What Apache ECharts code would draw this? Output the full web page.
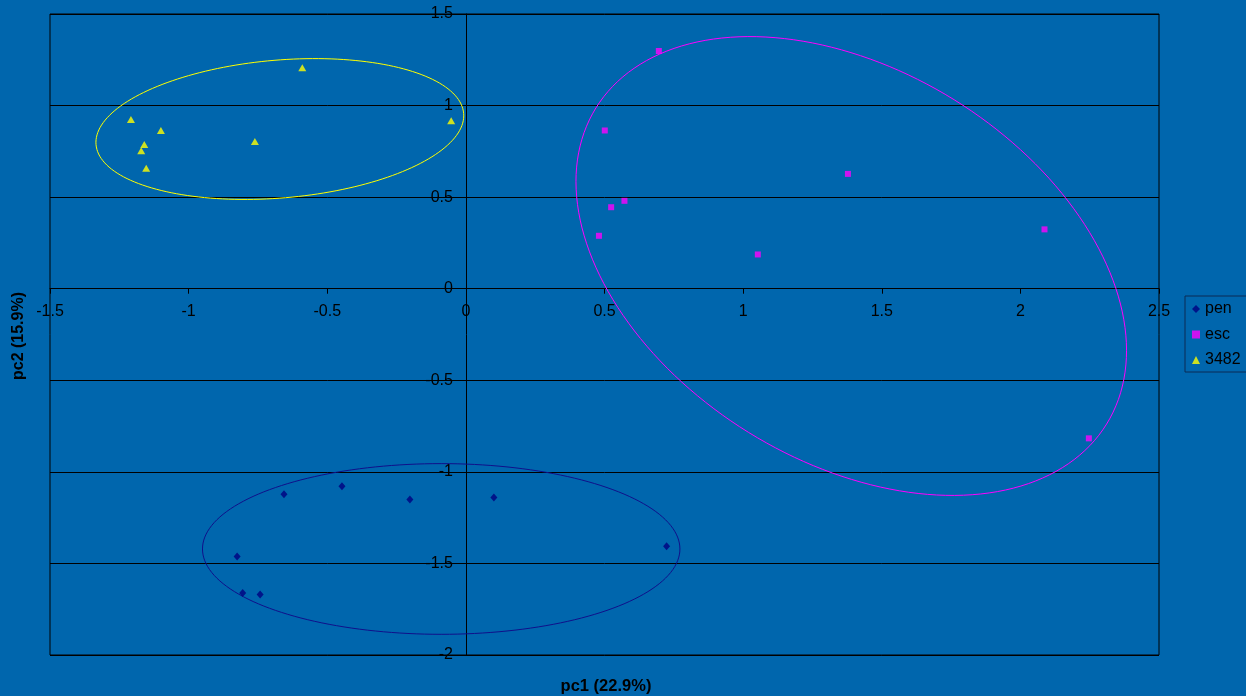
<!DOCTYPE html>
<html>
<head>
<meta charset="utf-8">
<script src="https://cdn.jsdelivr.net/npm/echarts@6/dist/echarts.min.js"></script>
<style>
html,body{margin:0;padding:0;background:#0066AD;}
#c{width:1246px;height:696px;}
</style>
</head>
<body>
<div id="c"></div>
<script>
// ---- data ----
const xTicks = [-1.5, -1, -0.5, 0, 0.5, 1, 1.5, 2, 2.5];
const yTicks = [-2, -1.5, -1, -0.5, 0, 0.5, 1, 1.5];
const seriesNames = ['pen', 'esc', '3482'];

const penX = [-0.825, -0.805, -0.742, -0.656, -0.447, -0.202, 0.101, 0.724];
const penY = [-1.462, -1.661, -1.669, -1.122, -1.079, -1.151, -1.140, -1.406];

const escX = [0.696, 0.501, 0.572, 0.524, 0.480, 1.053, 1.378, 2.087, 2.247];
const escY = [1.298, 0.864, 0.480, 0.445, 0.289, 0.187, 0.627, 0.324, -0.817];

const g3482X = [-1.208, -1.100, -1.160, -1.171, -1.153, -0.761, -0.590, -0.053];
const g3482Y = [0.924, 0.864, 0.787, 0.753, 0.658, 0.804, 1.206, 0.917];

// ellipses: centre and two conjugate half-axis vectors, in data units
const ellipseNames = ['pen', 'esc', '3482'];
const ellipseCx = [-0.089, 1.390, -0.671];
const ellipseCy = [-1.421, 0.124, 0.872];
const ellipseUx = [0.861, 0.921, 0.663];
const ellipseUy = [0.000, -0.863, 0.085];
const ellipseVx = [0.000, -0.371, 0.021];
const ellipseVy = [0.466, -0.908, -0.375];

// ---- styles / layout ----
const colors = {pen: '#000080', esc: '#FF00FF', '3482': '#FFFF00'};
const ellipseColors = {pen: '#10108A', esc: '#FF00FF', '3482': '#FFFF00'};
const FONT = 'Liberation Sans, Arial, sans-serif';
const W = 1246, H = 696;
const G = {left: 50, right: 87, top: 14, bottom: 41};

function zip(xs, ys){ return xs.map((x,i)=>[x, ys[i]]); }

const xMin = xTicks[0], xMax = xTicks[xTicks.length-1];
const yMin = yTicks[0], yMax = yTicks[yTicks.length-1];
const plotW = W - G.left - G.right, plotH = H - G.top - G.bottom;
// axes cross at zero: shift each axis from the grid edge to the zero line of the other axis
const xAxisOffset = -plotH * (0 - yMin) / (yMax - yMin);
const yAxisOffset = -plotW * (0 - xMin) / (xMax - xMin);

const ellipseData = ellipseNames.map((n,i)=>({
  value: [ellipseCx[i], ellipseCy[i], ellipseUx[i], ellipseUy[i], ellipseVx[i], ellipseVy[i]],
  itemStyle: {color: ellipseColors[n]}
}));

const chart = echarts.init(document.getElementById('c'), null, {renderer:'canvas'});

const option = {
  backgroundColor: '#0066AD',
  animation: false,
  grid: {left: G.left, right: G.right, top: G.top, bottom: G.bottom, show: true, borderColor: '#000', borderWidth: 1, backgroundColor: 'transparent'},
  xAxis: {
    type: 'value', min: xMin, max: xMax, interval: 0.5, position: 'bottom', offset: xAxisOffset,
    axisLine: {show: true, onZero: false, lineStyle: {color: '#000', width: 1}},
    axisTick: {show: true, length: 5, lineStyle: {color: '#000'}},
    axisLabel: {color: '#000', fontFamily: FONT, fontSize: 16, margin: 15},
    splitLine: {show: false}
  },
  yAxis: {
    type: 'value', min: yMin, max: yMax, interval: 0.5, position: 'left', offset: yAxisOffset,
    axisLine: {show: true, onZero: false, lineStyle: {color: '#000', width: 1}},
    axisTick: {show: true, length: 5, lineStyle: {color: '#000'}},
    axisLabel: {color: '#000', fontFamily: FONT, fontSize: 16, margin: 13},
    splitLine: {show: true, lineStyle: {color: '#000', width: 1}}
  },
  legend: {
    data: seriesNames.map(n=>({name:n, icon: n==='pen'?'diamond':(n==='esc'?'rect':'triangle')})),
    orient: 'vertical', left: 1185, top: 296,
    itemWidth: 8, itemHeight: 8, itemGap: 9.5,
    padding: [5, 40, 4, 7],
    borderColor: '#0A2A55', borderWidth: 1,
    textStyle: {color: '#000', fontFamily: FONT, fontSize: 16},
    selectedMode: false
  },
  graphic: [
    {type: 'text', x: 606, y: 686, style: {text: 'pc1 (22.9%)', fill: '#000', font: 'bold 16.5px Liberation Sans, Arial, sans-serif', align: 'center', verticalAlign: 'middle'}},
    {type: 'text', x: 19, y: 336, rotation: Math.PI/2, style: {text: 'pc2 (15.9%)', fill: '#000', font: 'bold 16px Liberation Sans, Arial, sans-serif', align: 'center', verticalAlign: 'middle'}}
  ],
  series: [
    {
      type: 'custom', name: 'ellipses', silent: true, z: 1, clip: false,
      data: ellipseData,
      encode: {x: 0, y: 1},
      renderItem: function(params, api){
        const cx = api.value(0), cy = api.value(1), ux = api.value(2), uy = api.value(3), vx = api.value(4), vy = api.value(5);
        const pts = [];
        const N = 180;
        for (let i = 0; i <= N; i++) {
          const t = i / N * Math.PI * 2;
          pts.push(api.coord([cx + ux*Math.cos(t) + vx*Math.sin(t), cy + uy*Math.cos(t) + vy*Math.sin(t)]));
        }
        return {type: 'polyline', shape: {points: pts}, style: {stroke: api.visual('color'), lineWidth: 1, fill: null}};
      }
    },
    {type: 'scatter', name: 'pen', data: zip(penX, penY), symbol: 'diamond', symbolSize: [7, 8], itemStyle: {color: colors.pen}, z: 3},
    {type: 'scatter', name: 'esc', data: zip(escX, escY), symbol: 'rect', symbolSize: 6, itemStyle: {color: colors.esc}, z: 3},
    {type: 'scatter', name: '3482', data: zip(g3482X, g3482Y), symbol: 'triangle', symbolSize: [8, 7], itemStyle: {color: colors['3482']}, z: 3}
  ]
};
chart.setOption(option);
</script>
</body>
</html>
